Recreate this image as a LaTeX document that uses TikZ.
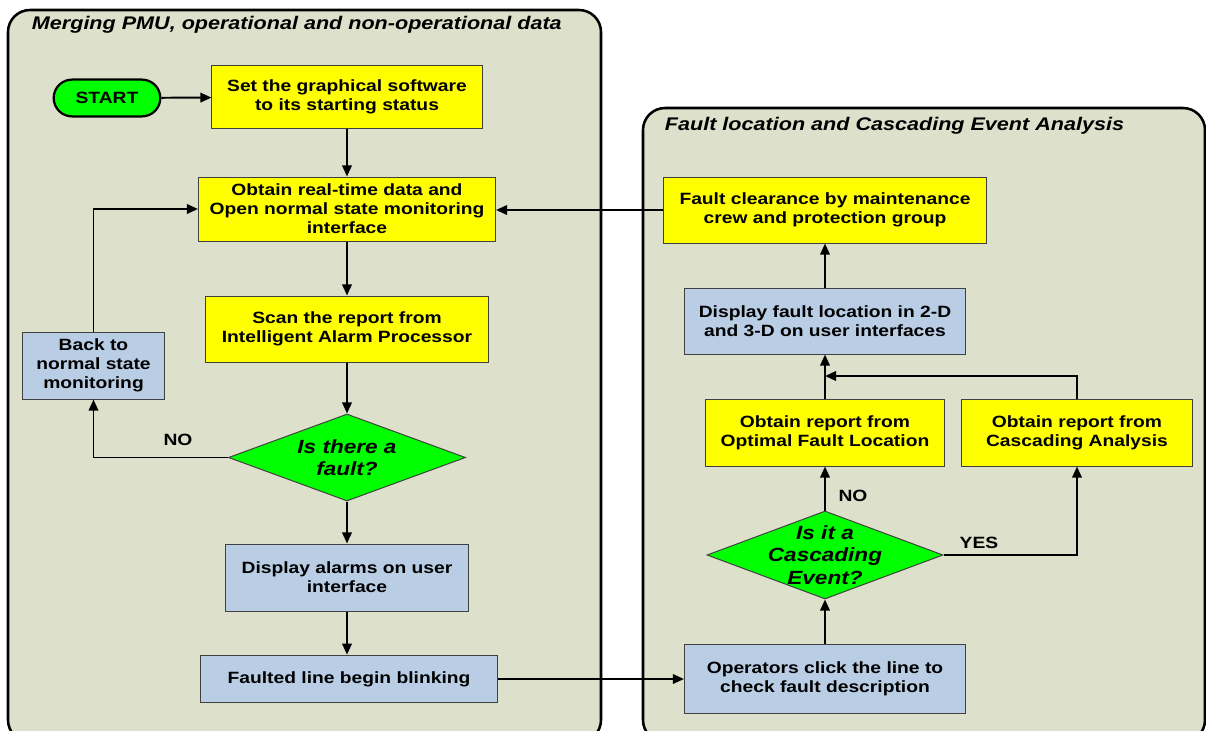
\documentclass[tikz,border=0pt]{standalone}
\usepackage{fontspec}
\setmainfont{Liberation Sans}[FakeStretch=1.18]
\usetikzlibrary{arrows.meta,shapes.geometric,shapes.misc}
\definecolor{panelfill}{HTML}{DDE0CB}
\definecolor{boxblue}{HTML}{B9CDE5}
\definecolor{boxyellow}{HTML}{FFFF00}
\definecolor{boxgreen}{HTML}{00FF00}
\definecolor{boxline}{HTML}{404040}
\begin{document}
\begin{tikzpicture}[x=0.025cm, y=-0.025cm,
    panel/.style={draw=black, line width=1.8pt, fill=panelfill, rounded corners=0.55cm},
    paneltitle/.style={anchor=west, font=\bfseries\itshape\fontsize{13}{15}\selectfont},
    txt/.style={font=\bfseries\fontsize{11.6}{13.5}\selectfont, align=center},
    yelbox/.style={txt, draw=boxline, line width=0.7pt, fill=boxyellow},
    bluebox/.style={txt, draw=boxline, line width=0.7pt, fill=boxblue},
    decide/.style={diamond, draw=boxline, line width=0.7pt, fill=boxgreen, inner sep=0pt, aspect=2.7},
    dtext/.style={font=\bfseries\itshape\fontsize{13.6}{16}\selectfont, align=center},
    ans/.style={font=\bfseries\fontsize{11.6}{13.5}\selectfont},
    flow/.style={line width=1.4pt, -{Triangle[length=2.8mm, width=2.4mm]}}]
    \useasboundingbox (0,0) rectangle (1206,731);
    \clip (0,0) rectangle (1206,731);
    % two panels
    \draw[panel] (8,10) rectangle (601,742);
    \draw[panel] (643,108) rectangle (1205,742);
    \node[paneltitle] (ltitle) at (27,25) {Merging PMU, operational and non-operational data};
    \node[paneltitle] (rtitle) at (660,126) {Fault location and Cascading Event Analysis};
    % left panel
    \node[rounded rectangle, draw=black, line width=1.6pt, fill=boxgreen, txt,
          minimum width=2.9cm, minimum height=0.92cm] (start) at (107,98) {START};
    \node[yelbox, minimum width=6.75cm, minimum height=1.59cm] (set) at (347,97)
        {Set the graphical software\\to its starting status};
    \node[yelbox, minimum width=7.425cm, minimum height=1.6cm] (obtain) at (347,209)
        {Obtain real-time data and\\Open normal state monitoring\\interface};
    \node[yelbox, minimum width=7.05cm, minimum height=1.65cm] (scan) at (347,329)
        {Scan the report from\\Intelligent Alarm Processor};
    \node[decide, minimum width=5.925cm, minimum height=2.175cm,
          label={[dtext]center:{Is there a\\fault?}}] (fault) at (347,457.5) {};
    \node[bluebox, minimum width=3.525cm, minimum height=1.675cm] (back) at (93.5,365.5)
        {Back to\\normal state\\monitoring};
    \node[bluebox, minimum width=6.075cm, minimum height=1.675cm] (alarms) at (347,577.5)
        {Display alarms on user\\interface};
    \node[bluebox, minimum width=7.4cm, minimum height=1.19cm] (faulted) at (349,679)
        {Faulted line begin blinking};
    % right panel
    \node[yelbox, minimum width=8.05cm, minimum height=1.65cm] (clear) at (825,210)
        {Fault clearance by maintenance\\crew and protection group};
    \node[bluebox, minimum width=7cm, minimum height=1.65cm] (disploc) at (825,321)
        {Display fault location in 2-D\\and 3-D on user interfaces};
    \node[yelbox, minimum width=5.95cm, minimum height=1.675cm] (ofl) at (825,432.5)
        {Obtain report from\\Optimal Fault Location};
    \node[yelbox, minimum width=5.75cm, minimum height=1.675cm] (cas) at (1077,432.5)
        {Obtain report from\\Cascading Analysis};
    \node[decide, minimum width=5.9cm, minimum height=2.2cm,
          label={[dtext]center:{Is it a\\Cascading\\Event?}}] (casq) at (825,555) {};
    \node[bluebox, minimum width=7.025cm, minimum height=1.725cm] (oper) at (825,679)
        {Operators click the line to\\check fault description};
    \coordinate (merge) at (825,376);
    % connectors
    \draw[flow] (start) -- (set);
    \draw[flow] (set) -- (obtain);
    \draw[flow] (obtain) -- (scan);
    \draw[flow] (scan) -- (fault);
    \draw[flow] (fault.west) -| (back.south);
    \draw[flow] (back.north) |- (obtain.west);
    \draw[flow] (fault) -- (alarms);
    \draw[flow] (alarms.south) -- (alarms.south |- faulted.north);
    \draw[flow] (faulted.east) -- (faulted.east -| oper.west);
    \draw[flow] (oper) -- (casq);
    \draw[flow] (casq) -- (ofl);
    \draw[flow] (casq.east) -| (cas.south);
    \draw[flow] (ofl) -- (disploc);
    \draw[flow] (cas.north) |- (merge);
    \draw[flow] (disploc) -- (clear);
    \draw[flow] (clear.west) -- (clear.west -| obtain.east);
    \node[ans] (nol) at (178,440) {NO};
    \node[ans] (nor) at (853,496) {NO};
    \node[ans] (yes) at (979,543) {YES};
\end{tikzpicture}
\end{document}
